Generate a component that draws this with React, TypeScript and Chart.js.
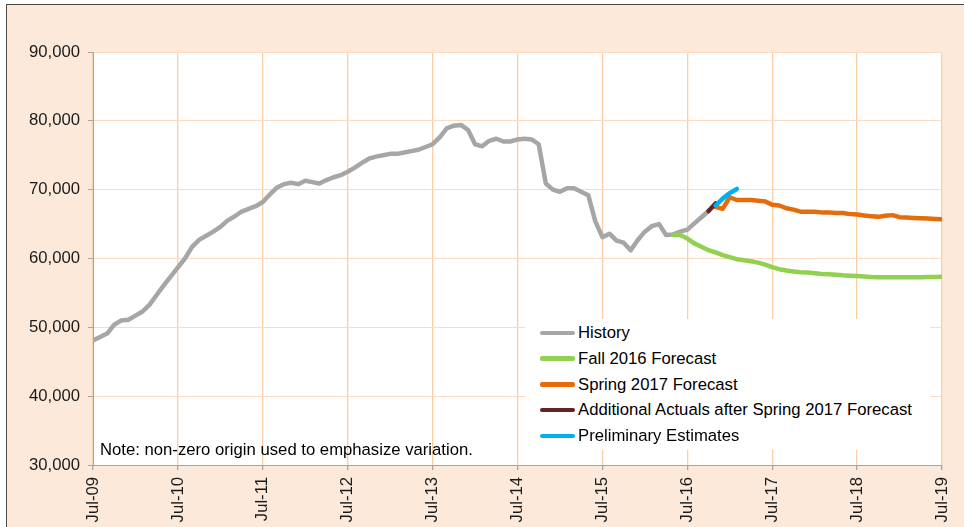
import React, { useEffect, useRef } from "react";
import { Chart, registerables } from "chart.js";

Chart.register(...registerables);

// ---- Data (month index 0 = Jul-09, one point per month) ----
const xTickLabels = [
  "Jul-09", "Jul-10", "Jul-11", "Jul-12", "Jul-13", "Jul-14",
  "Jul-15", "Jul-16", "Jul-17", "Jul-18", "Jul-19",
];
const yTickMin = 30000;
const yTickMax = 90000;
const yTickStep = 10000;

const seriesNames = [
  "History",
  "Fall 2016 Forecast",
  "Spring 2017 Forecast",
  "Additional Actuals after Spring 2017 Forecast",
  "Preliminary Estimates",
];
const seriesColors = ["#A6A6A6", "#92D050", "#E46C0A", "#632523", "#00B0F0"];

const historyStart = 0;
const historyValues = [
  48100, 48600, 49100, 50400, 51000, 51100, 51700, 52300, 53300, 54700, 56100, 57400,
  58700, 60000, 61700, 62700, 63300, 63900, 64600, 65500, 66100, 66800, 67200, 67600,
  68200, 69300, 70300, 70800, 71000, 70800, 71300, 71100, 70900, 71400, 71800, 72100,
  72600, 73200, 73900, 74500, 74800, 75000, 75200, 75200, 75400, 75600, 75800, 76200,
  76600, 77600, 78900, 79300, 79400, 78700, 76600, 76300, 77100, 77400, 77000, 77000,
  77300, 77400, 77300, 76600, 70900, 70000, 69700, 70200, 70200, 69700, 69200, 65400,
  63100, 63600, 62600, 62300, 61200, 62700, 63900, 64700, 65000, 63400, 63500, 63900,
  64200, 65100, 66000, 66900,
];

const fall2016Start = 82;
const fall2016Values = [
  63400, 63400, 62900, 62200, 61700, 61200, 60900, 60500, 60200, 59900,
  59750, 59600, 59400, 59100, 58750, 58450, 58250, 58100, 58000, 57950,
  57850, 57750, 57700, 57650, 57550, 57500, 57450, 57400, 57300, 57270,
  57260, 57260, 57260, 57260, 57270, 57280, 57300, 57320, 57350,
];

const spring2017Start = 88;
const spring2017Values = [
  67500, 67200, 68900, 68500, 68500, 68500, 68400, 68300, 67800, 67700,
  67300, 67100, 66800, 66800, 66800, 66700, 66700, 66600, 66600, 66450,
  66400, 66250, 66150, 66050, 66200, 66300, 66000, 65950, 65900, 65850,
  65800, 65750, 65700,
];

const additionalStart = 87;
const additionalValues = [66900, 68000];

const preliminaryStart = 88;
const preliminaryValues = [67700, 68700, 69500, 70100];

// ---- helpers ----
const toPoints = (start: number, values: number[]) =>
  values.map((v, i) => ({ x: start + i, y: v }));

const FONT = "'Liberation Sans', Arial, Helvetica, sans-serif";
const FONT_SIZE = 16.7;

const plotBg = {
  id: "plotBg",
  beforeDraw(chart: any) {
    const { ctx, chartArea } = chart;
    if (!chartArea) return;
    ctx.save();
    ctx.fillStyle = "#FFFFFF";
    ctx.fillRect(chartArea.left, chartArea.top, chartArea.right - chartArea.left, chartArea.bottom - chartArea.top);
    ctx.restore();
  },
};

export default function App() {
  const canvasRef = useRef<HTMLCanvasElement | null>(null);

  useEffect(() => {
    if (!canvasRef.current) return;
    const seriesData = [
      toPoints(historyStart, historyValues),
      toPoints(fall2016Start, fall2016Values),
      toPoints(spring2017Start, spring2017Values),
      toPoints(additionalStart, additionalValues),
      toPoints(preliminaryStart, preliminaryValues),
    ];
    const chart = new Chart(canvasRef.current, {
      type: "line",
      data: {
        datasets: seriesData.map((d, i) => ({
          label: seriesNames[i],
          data: d,
          borderColor: seriesColors[i],
          backgroundColor: seriesColors[i],
          borderWidth: 4.5,
          pointRadius: 0,
          tension: 0,
          borderCapStyle: "round" as const,
          borderJoinStyle: "round" as const,
          order: seriesNames.length - i,
        })),
      },
      options: {
        animation: false,
        responsive: false,
        events: [],
        layout: { padding: { top: 52, right: 22, left: 0, bottom: 0 } },
        plugins: {
          legend: { display: false },
          tooltip: { enabled: false },
        },
        scales: {
          x: {
            type: "linear",
            min: 0,
            max: 120,
            afterFit: (s: any) => {
              s.height = 62;
              s.paddingLeft = 0;
              s.paddingRight = 0;
            },
            ticks: {
              stepSize: 12,
              autoSkip: false,
              maxRotation: 90,
              minRotation: 90,
              padding: 7,
              color: "#1A1A1A",
              font: { family: FONT, size: FONT_SIZE },
              callback: (v: any) => xTickLabels[Math.round(Number(v) / 12)] ?? "",
            },
            grid: {
              color: "#FACFA6",
              lineWidth: 1.3,
              tickColor: "#A6A6A6",
              tickLength: 5,
            },
            border: { color: "#A6A6A6", width: 1 },
          },
          y: {
            min: yTickMin,
            max: yTickMax,
            afterFit: (s: any) => {
              s.width = 93;
              s.paddingTop = 0;
              s.paddingBottom = 0;
            },
            ticks: {
              stepSize: yTickStep,
              padding: 8,
              color: "#1A1A1A",
              font: { family: FONT, size: FONT_SIZE },
            },
            grid: {
              color: "#FBDCC2",
              lineWidth: 1,
              tickColor: "#A6A6A6",
              tickLength: 5,
            },
            border: { color: "#A6A6A6", width: 1 },
          },
        },
      },
      plugins: [plotBg],
    });
    return () => chart.destroy();
  }, []);

  const rowBaselines = [338.3, 364.1, 389.9, 415.7, 441.5];
  const legendLeft = 525;
  const legendTop = 319;

  return (
    <div style={{ position: "fixed", left: 0, top: 0, width: 964, height: 527, background: "#FFFFFF", overflow: "hidden" }}>
      <div
        style={{
          position: "absolute",
          left: 6,
          top: 4,
          width: 1000,
          height: 600,
          background: "#FDE9D9",
          borderLeft: "1.5px solid #4A4A4A",
          borderTop: "1.5px solid #4A4A4A",
        }}
      />
      <canvas ref={canvasRef} width={964} height={527} style={{ position: "absolute", left: 0, top: 0, width: 964, height: 527 }} />
      {/* Legend */}
      <div
        style={{
          position: "absolute",
          left: legendLeft,
          top: legendTop,
          width: 405,
          height: 131,
          background: "#FFFFFF",
          fontFamily: FONT,
          fontSize: FONT_SIZE,
          color: "#000000",
        }}
      >
        {seriesNames.map((name, i) => {
          const top = rowBaselines[i] - 15.3 - legendTop;
          return (
            <div key={name} style={{ position: "absolute", left: 0, top, height: 19, width: 405, lineHeight: "19px", whiteSpace: "nowrap" }}>
              <span
                style={{
                  position: "absolute",
                  left: 15,
                  top: 7.5,
                  width: 35,
                  height: 4.5,
                  borderRadius: 2,
                  background: seriesColors[i],
                }}
              />
              <span style={{ position: "absolute", left: 53, top: 0 }}>{name}</span>
            </div>
          );
        })}
      </div>
      {/* Note */}
      <div
        style={{
          position: "absolute",
          left: 100,
          top: 439.7,
          lineHeight: "19px",
          fontFamily: FONT,
          fontSize: FONT_SIZE,
          color: "#000000",
          whiteSpace: "nowrap",
        }}
      >
        Note: non-zero origin used to emphasize variation.
      </div>
    </div>
  );
}
